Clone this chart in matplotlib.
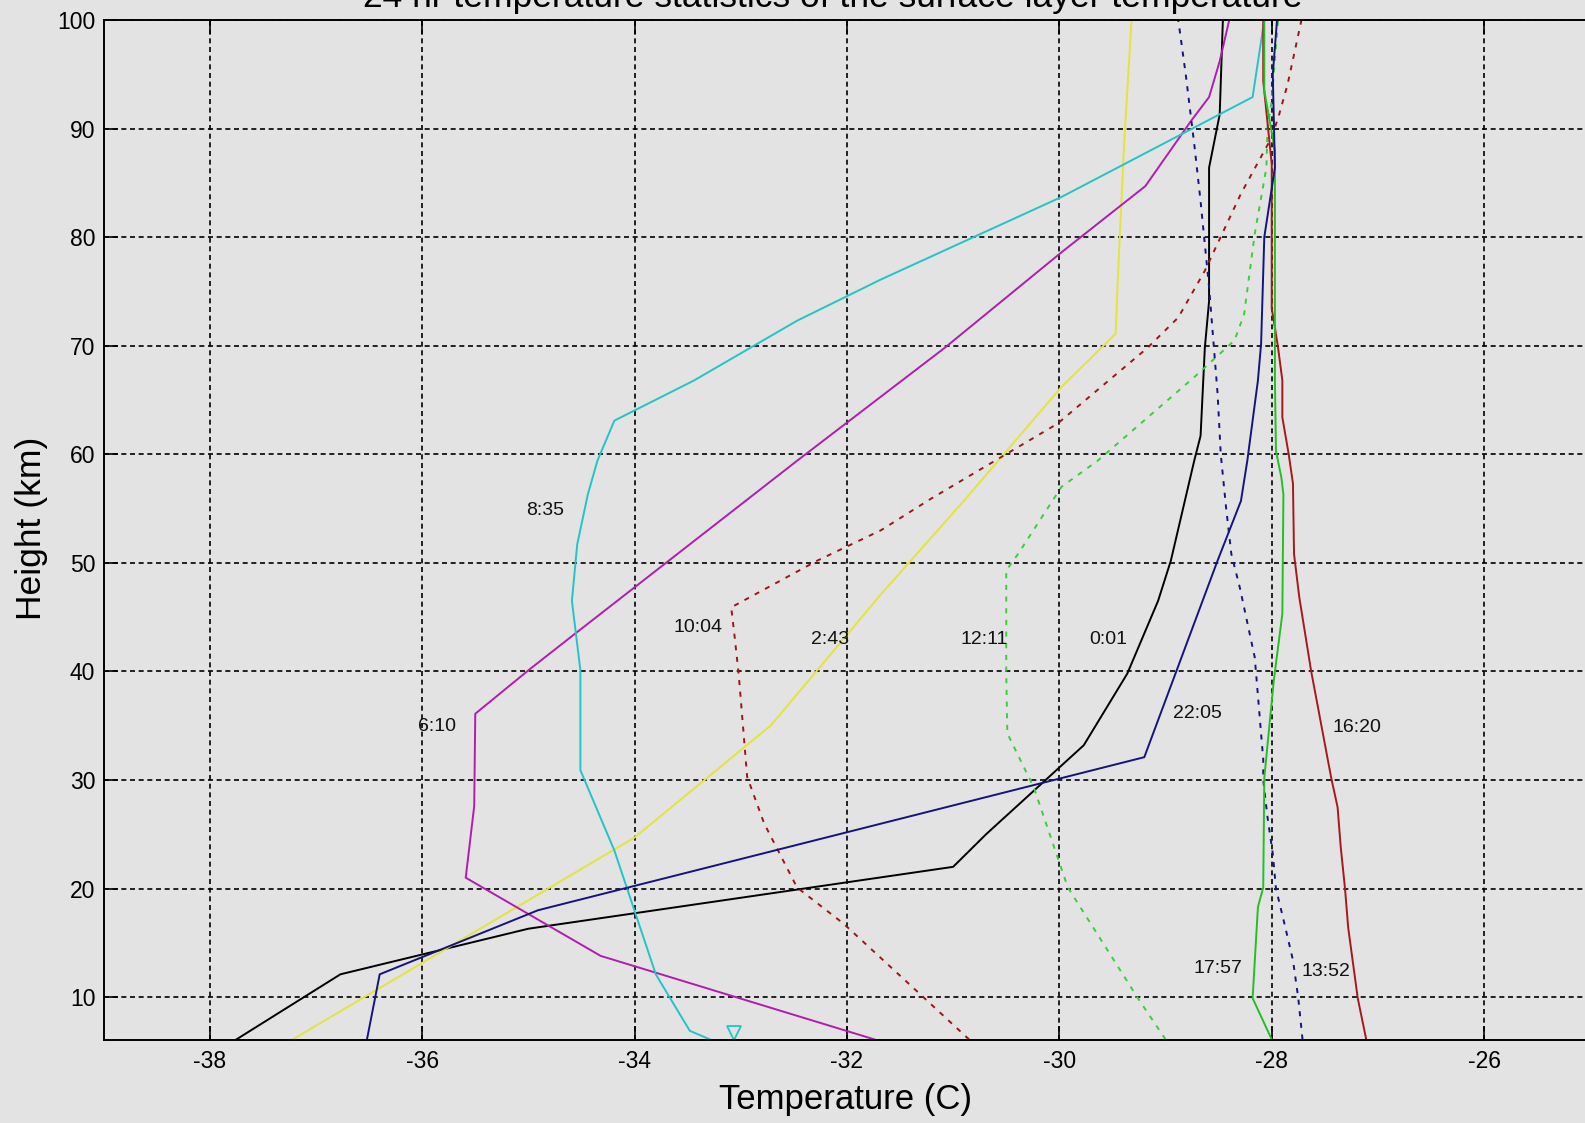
import matplotlib
matplotlib.use('Agg')
import matplotlib.pyplot as plt

plt.rcParams.update({
    'font.family': ['Liberation Sans', 'DejaVu Sans'],
    'axes.unicode_minus': False,
})

BG = '#e3e3e3'

# temperature profiles (T in C, height in km)
t_0001 = [-37.75, -36.77, -35.0, -31.0, -30.69, -29.77, -29.36, -29.07, -28.95,
          -28.73, -28.67, -28.63, -28.59, -28.59, -28.49, -28.46]
h_0001 = [6.1, 12.1, 16.3, 22.0, 25.0, 33.2, 39.8, 46.5, 50.2,
          59.4, 61.7, 69.8, 74.1, 86.4, 91.3, 100]

t_0243 = [-37.22, -34.0, -32.72, -32.28, -31.68, -30.9, -29.98, -29.47, -29.45, -29.39, -29.32]
h_0243 = [6.1, 24.7, 35.0, 40.1, 47.1, 55.7, 66.2, 71.1, 76.0, 88.6, 100]

t_0610 = [-31.74, -34.32, -35.59, -35.51, -35.50, -35.0, -34.57, -32.47, -31.08,
          -29.98, -29.19, -28.76, -28.59, -28.49, -28.40]
h_0610 = [6.1, 13.8, 21.0, 27.6, 36.1, 40.1, 43.4, 59.4, 69.8,
          78.6, 84.7, 90.7, 92.9, 96.2, 100]

t_0835 = [-33.29, -33.48, -33.8, -34.19, -34.51, -34.51, -34.59, -34.54, -34.44,
          -34.35, -34.19, -33.44, -32.47, -31.68, -29.98, -28.18, -28.07]
h_0835 = [6.1, 6.9, 12.1, 23.5, 30.9, 40.1, 46.5, 51.7, 56.3,
          59.4, 63.1, 66.8, 72.3, 76.1, 83.7, 92.9, 100]

t_1004 = [-30.85, -31.27, -32.03, -32.47, -32.78, -32.94, -32.97, -33.02, -33.06, -33.09,
          -32.28, -31.68, -31.21, -30.02, -29.17, -28.88, -28.63, -28.29, -28.0, -27.93,
          -27.85, -27.72]
h_1004 = [6.1, 9.9, 16.75, 20.1, 26.0, 30.3, 33.9, 39.8, 43.4, 45.9,
          50.2, 53.0, 55.9, 62.8, 69.8, 72.6, 76.9, 84.0, 89.2, 91.3,
          94.1, 100]

t_1211 = [-29.0, -29.26, -29.92, -30.24, -30.49, -30.5, -30.5, -30.39, -29.98, -29.64,
          -28.73, -28.35, -28.26, -28.16, -28.05, -28.04, -28.0, -27.94]
h_1211 = [6.1, 9.9, 20.1, 29.3, 34.3, 39.8, 49.3, 50.8, 57.0, 59.4,
          67.1, 70.5, 72.9, 80.3, 86.4, 90.1, 92.6, 100]

t_1352 = [-27.71, -27.75, -27.80, -27.88, -27.96, -27.99, -28.04, -28.08, -28.08, -28.16,
          -28.3, -28.38, -28.43, -28.48, -28.51, -28.59, -28.67, -28.73, -28.78, -28.81, -28.88]
h_1352 = [6.1, 9.9, 13.4, 16.75, 20.0, 23.2, 26.6, 30.0, 31.9, 41.3,
          47.7, 50.8, 55.1, 60.0, 65.6, 75.4, 83.3, 88.6, 92.6, 95.0, 100]

t_1620 = [-27.11, -27.19, -27.28, -27.31, -27.35, -27.38, -27.44, -27.63, -27.74, -27.79,
          -27.80, -27.84, -27.90, -27.90, -27.94, -27.98, -28.0, -28.0, -28.08, -28.08]
h_1620 = [6.1, 9.9, 16.4, 20.0, 23.8, 27.5, 30.2, 40.1, 46.8, 50.8,
          57.3, 60.0, 63.4, 66.8, 69.8, 72.3, 73.4, 86.7, 94.4, 100]

t_1757 = [-28.0, -28.18, -28.13, -28.08, -28.07, -27.98, -27.90, -27.89, -27.91, -27.96,
          -27.97, -27.97, -28.07, -28.07]
h_1757 = [6.1, 9.9, 18.3, 20.1, 30.2, 39.2, 45.3, 56.3, 57.9, 60.3,
          66.8, 88.0, 93.5, 100]

t_2205 = [-36.52, -36.40, -34.91, -29.2, -28.51, -28.29, -28.23, -28.13, -28.1, -28.07,
          -27.97, -27.99, -27.95]
h_2205 = [6.1, 12.1, 18.0, 32.1, 50.2, 55.7, 59.4, 66.8, 70.2, 80.0,
          86.4, 95.0, 100]

# stray marker near the bottom
marker_t = [-33.06]
marker_h = [6.65]

# curve labels: text, temperature, height
label_text = ['8:35', '10:04', '2:43', '12:11', '0:01', '6:10', '22:05', '16:20', '17:57', '13:52']
label_t = [-34.84, -33.40, -32.16, -30.71, -29.54, -35.86, -28.70, -27.20, -28.51, -27.49]
label_h = [54.8, 44.0, 42.95, 42.95, 42.95, 34.9, 36.15, 34.85, 12.6, 12.4]

x_ticks = [-38, -36, -34, -32, -30, -28, -26]
y_ticks = [10, 20, 30, 40, 50, 60, 70, 80, 90, 100]

fig = plt.figure(figsize=(15.85, 11.23), dpi=100, facecolor=BG)
ax = fig.add_axes([0.06536, 0.07391, 0.93464, 0.90828], facecolor=BG)

lw = 1.4
dash = (0, (2.6, 3.4))
ax.plot(t_0001, h_0001, '-', color='#000000', lw=lw)
ax.plot(t_0243, h_0243, '-', color='#e4e43a', lw=lw)
ax.plot(t_0610, h_0610, '-', color='#b01cb0', lw=lw)
ax.plot(t_0835, h_0835, '-', color='#22c4c8', lw=lw)
ax.plot(t_1004, h_1004, linestyle=dash, color='#a01414', lw=lw)
ax.plot(t_1211, h_1211, linestyle=dash, color='#38d038', lw=lw)
ax.plot(t_1352, h_1352, linestyle=dash, color='#14147e', lw=lw)
ax.plot(t_1620, h_1620, '-', color='#a81818', lw=lw)
ax.plot(t_1757, h_1757, '-', color='#22c022', lw=lw)
ax.plot(t_2205, h_2205, '-', color='#14147e', lw=lw)
ax.plot(marker_t, marker_h, 'v', color='#22c4c8', mfc='none', ms=10, mew=1.3)

for s, t, h in zip(label_text, label_t, label_h):
    ax.text(t, h, s, fontsize=14, ha='center', va='center', color='#111111')

ax.set_xlim(-39, -25.05)
ax.set_ylim(6.05, 100)
ax.set_xticks(x_ticks)
ax.set_yticks(y_ticks)
ax.set_axisbelow(True)
ax.grid(True, color='black', linestyle=(0, (3, 2.2)), lw=1.2)

for side in ['left', 'bottom', 'top']:
    ax.spines[side].set_linewidth(1.4)
    ax.spines[side].set_color('black')
ax.spines['right'].set_visible(False)
ax.tick_params(direction='in', length=10, width=1.2, labelsize=16.5, pad=7,
               top=True, colors='black')
ax.tick_params(axis='y', pad=6)

ax.set_xlabel('Temperature (C)', fontsize=25, va='center')
ax.xaxis.set_label_coords(0.5005, -0.0588)
ax.set_ylabel('Height (km)', fontsize=25.5, va='center')
ax.yaxis.set_label_coords(-0.0487, 0.502)

# title sits mostly above the top edge, as in the original screenshot
fig.text(0.5252, 0.9935, '24 hr temperature statistics of the surface layer temperature',
         fontsize=25.5, ha='center', va='baseline')

fig.savefig('out.png', dpi=100, facecolor=BG)
